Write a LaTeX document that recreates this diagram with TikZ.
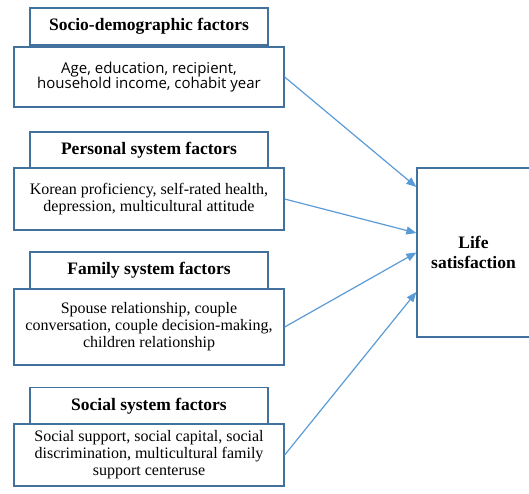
\documentclass[tikz,border=0pt]{standalone}
\usepackage{fontspec}
\setmainfont{Liberation Serif}
\newfontfamily\bodysans{Open Sans}
\usetikzlibrary{arrows.meta}
\definecolor{boxline}{HTML}{41719C}
\definecolor{arrowblue}{HTML}{5B9BD5}
\tikzset{
  titlebox/.style={draw=boxline, line width=1.3pt, fill=white, rectangle,
    minimum width=238pt, minimum height=37pt, inner sep=0pt,
    font=\fontsize{17.5}{19}\selectfont\bfseries},
  bodybox/.style={draw=boxline, line width=1.3pt, fill=white, rectangle,
    minimum width=270pt, inner sep=0pt, align=center,
    font=\fontsize{16}{17}\selectfont},
  lifebox/.style={draw=boxline, line width=1.3pt, fill=white, rectangle,
    minimum width=113pt, minimum height=169pt, inner sep=0pt, align=center,
    font=\fontsize{17.5}{20}\selectfont\bfseries},
  link/.style={draw=arrowblue, line width=1.2pt,
    -{Triangle[length=10pt,width=8pt]}}
}
\begin{document}
\begin{tikzpicture}[x=1pt,y=-1pt]
\useasboundingbox (0,0) rectangle (529,493);

% factor groups: heading box with its list of variables below
\node[titlebox] (t1) at (149,26.5) {Socio-demographic factors};
\node[bodybox, minimum height=60pt, font=\bodysans\fontsize{15}{15}\selectfont]
  (b1) at (149,77) {Age, education, recipient,\\household income, cohabit year};

\node[titlebox] (t2) at (149,150.5) {Personal system factors};
\node[bodybox, minimum height=62pt] (b2) at (149,199)
  {Korean proficiency, self-rated health,\\depression, multicultural attitude};

\node[titlebox] (t3) at (149,270.5) {Family system factors};
\node[bodybox, minimum height=76pt] (b3) at (149,327)
  {Spouse relationship, couple\\conversation, couple decision-making,\\children relationship};

\node[titlebox] (t4) at (149,406) {Social system factors};
\node[bodybox, minimum height=62pt] (b4) at (149,455)
  {\raisebox{-3pt}{\parbox{270pt}{\centering Social support, social capital, social\\discrimination, multicultural family\\support centeruse}}};

% outcome
\node[lifebox] (life) at (473.5,252.5) {Life\\satisfaction};

% paths
\draw[link] (b1.east) -- ([yshift=65.5pt]life.west);
\draw[link] (b2.east) -- ([yshift=19.5pt]life.west);
\draw[link] (b3.east) -- (life.west);
\draw[link] (b4.east) -- ([yshift=-39.5pt]life.west);
\end{tikzpicture}
\end{document}
